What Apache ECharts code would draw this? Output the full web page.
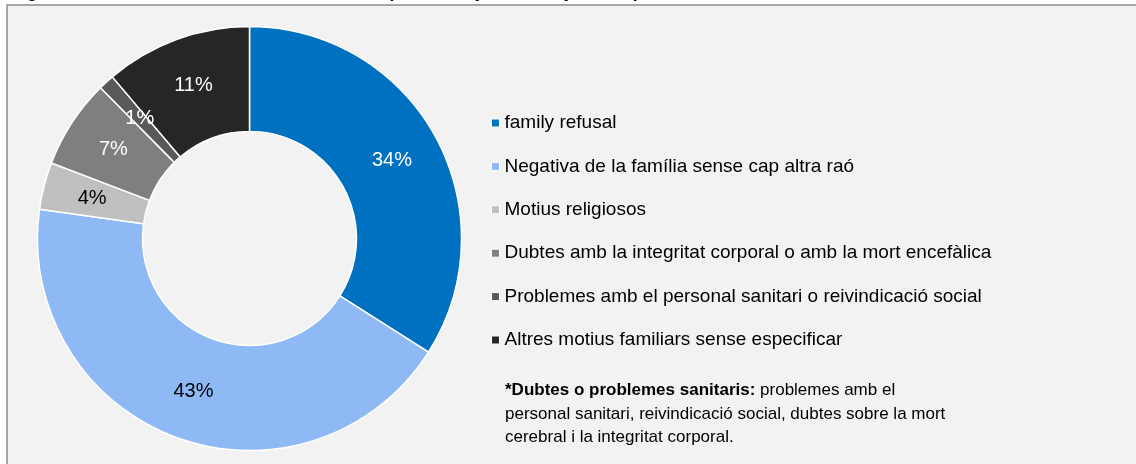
<!DOCTYPE html>
<html>
<head>
<meta charset="utf-8">
<script src="https://cdn.jsdelivr.net/npm/echarts@6/dist/echarts.min.js"></script>
<style>
  html, body { margin: 0; padding: 0; background: #fff; }
  #chart { width: 1136px; height: 464px; }
</style>
</head>
<body>
<div id="chart"></div>
<script>
// motius de la negativa familiar (percentatges)
var categories = [
    'family refusal',
    'Negativa de la família sense cap altra raó',
    'Motius religiosos',
    'Dubtes amb la integritat corporal o amb la mort encefàlica',
    'Problemes amb el personal sanitari o reivindicació social',
    'Altres motius familiars sense especificar'
];
var values = [34.0, 43.2, 3.6, 6.8, 1.2, 11.2];

var colors      = ['#0070c0', '#8eb9f5', '#bfbfbf', '#7f7f7f', '#595959', '#262626'];
var labelColors = ['#fff', '#000', '#000', '#fff', '#fff', '#fff'];

var titleText = 'Figure 3. Reasons for donation refusal as expressed by the family of the possible donor in Catalonia, 2019';
var noteBold  = '*Dubtes o problemes sanitaris:';
var noteLines = [
    ' problemes amb el',
    'personal sanitari, reivindicació social, dubtes sobre la mort',
    'cerebral i la integritat corporal.'
];

var font = '"Liberation Sans", Arial, sans-serif';

var pieData = [];
for (var i = 0; i < categories.length; i++) {
    pieData.push({
        name: categories[i],
        value: values[i],
        itemStyle: { color: colors[i] },
        label: { color: labelColors[i] }
    });
}

var chart = echarts.init(document.getElementById('chart'));
chart.setOption({
    backgroundColor: '#fff',
    animation: false,
    graphic: [
        {
            type: 'rect',
            z: -10,
            shape: { x: 7, y: 5, width: 1140, height: 470 },
            style: { fill: '#f2f2f2', stroke: '#8c8c8c', lineWidth: 1.5 }
        },
        {
            type: 'text',
            left: 12,
            top: -17,
            style: {
                text: titleText,
                font: 'italic bold 18px ' + font,
                fill: '#000'
            }
        },
        {
            type: 'text',
            left: 505,
            top: 382,
            style: {
                text: '{b|' + noteBold + '}{n|' + noteLines[0] + '}\n{n|' +
                      noteLines[1] + '}\n{n|' + noteLines[2] + '}',
                rich: {
                    b: { fontFamily: font, fontSize: 17, fontWeight: 'bold', color: '#000', lineHeight: 23.5 },
                    n: { fontFamily: font, fontSize: 17, color: '#000', lineHeight: 23.5 }
                }
            }
        }
    ],
    legend: {
        orient: 'vertical',
        left: 491,
        top: 112,
        padding: 0,
        icon: 'rect',
        itemWidth: 8,
        itemHeight: 8,
        itemGap: 21.4,
        itemStyle: { borderWidth: 1, borderColor: '#fff' },
        textStyle: {
            fontFamily: font,
            fontSize: 19,
            lineHeight: 22,
            color: '#000'
        },
        data: categories
    },
    series: [{
        type: 'pie',
        center: [249.5, 238.5],
        radius: [107, 212],
        startAngle: 90,
        clockwise: true,
        percentPrecision: 0,
        avoidLabelOverlap: false,
        itemStyle: { borderColor: '#fff', borderWidth: 1.5 },
        label: {
            show: true,
            position: 'inside',
            rotate: 0,
            fontFamily: font,
            fontSize: 20,
            formatter: '{d}%'
        },
        labelLine: { show: false },
        emphasis: { disabled: true },
        data: pieData
    }]
});
</script>
</body>
</html>
